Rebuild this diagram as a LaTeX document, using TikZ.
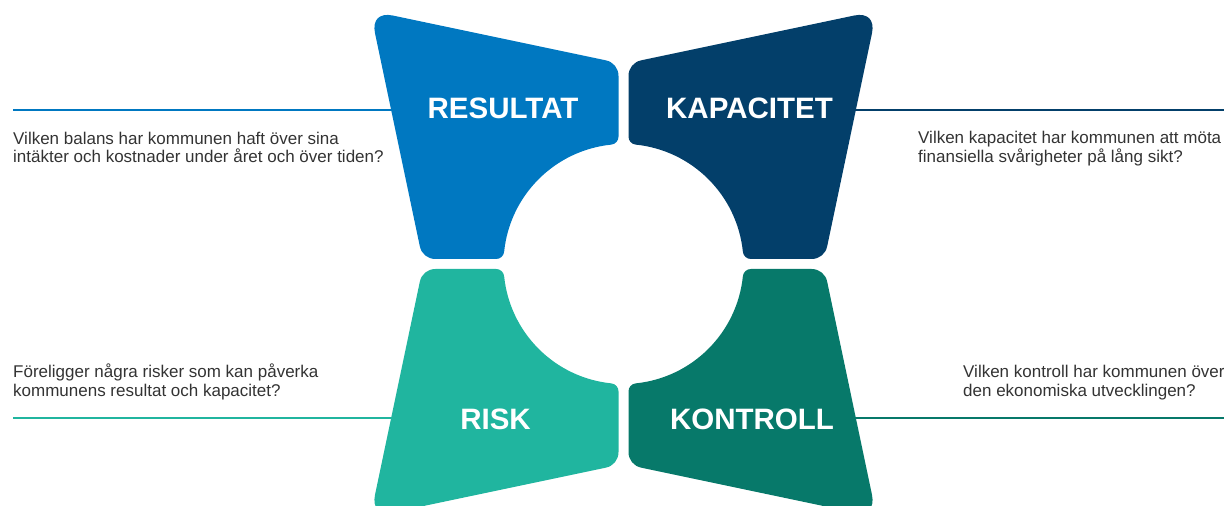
\documentclass[tikz,border=0pt]{standalone}
\usepackage{fontspec}
\setmainfont{Liberation Sans}
\definecolor{resc}{HTML}{0078C1}
\definecolor{kapc}{HTML}{033F6A}
\definecolor{riskc}{HTML}{20B59F}
\definecolor{kontc}{HTML}{07796A}
\definecolor{txtgray}{HTML}{333333}
\newcommand{\petalshape}[1]{%
  \fill[#1] (-5,140) -- (-5,188)
    .. controls (-5,195.8) and (-10.09,202.07) .. (-17.72,203.68)
    -- (-230.69,248.47)
    .. controls (-244.2,251.31) and (-251.31,244.2) .. (-248.47,230.69)
    -- (-203.68,17.72)
    .. controls (-202.07,10.09) and (-195.8,5) .. (-188,5)
    -- (-127.34,5)
    arc[start angle=-90, end angle=-5.83, radius=8]
    arc[start angle=174.17, end angle=95.83, radius=120]
    arc[start angle=-84.19, end angle=0, radius=8] -- cycle;}
\begin{document}
\begin{tikzpicture}[x=1pt,y=1pt,
  desc/.style={anchor=base west, align=left, inner sep=0pt, text=txtgray,
    font=\fontsize{17}{18.5}\selectfont},
  title/.style={text=white, inner sep=0pt, font=\fontsize{29.5}{31}\selectfont\bfseries},
  conn/.style={line width=2pt}]
\useasboundingbox (0,0) rectangle (1224,506);
\clip (0,0) rectangle (1224,506);
% connector lines (drawn beneath the petals)
\coordinate (l1s) at (13,396);   \coordinate (l1e) at (500,396);
\coordinate (l2s) at (747,396);  \coordinate (l2e) at (1224,396);
\coordinate (l3s) at (13,88);    \coordinate (l3e) at (500,88);
\coordinate (l4s) at (747,88);   \coordinate (l4e) at (1224,88);
\draw[conn, resc]  (l1s) -- (l1e);
\draw[conn, kapc]  (l2s) -- (l2e);
\draw[conn, riskc] (l3s) -- (l3e);
\draw[conn, kontc] (l4s) -- (l4e);
% petals
\begin{scope}[shift={(623.5,242)}]\petalshape{resc}\end{scope}
\begin{scope}[shift={(623.5,242)},xscale=-1]\petalshape{kapc}\end{scope}
\begin{scope}[shift={(623.5,242)},yscale=-1]\petalshape{riskc}\end{scope}
\begin{scope}[shift={(623.5,242)},xscale=-1,yscale=-1]\petalshape{kontc}\end{scope}
% titles
\node[title] (t1) at (503,398) {RESULTAT};
\node[title] (t2) at (749.5,398) {KAPACITET};
\node[title] (t3) at (495.5,86.5) {RISK};
\node[title] (t4) at (752,86.5) {KONTROLL};
% descriptions (anchored at the baseline of their last line)
\node[desc] (q1) at (13,343) {Vilken balans har kommunen haft över sina\\intäkter och kostnader under året och över tiden?};
\node[desc] (q2) at (918,343.5) {Vilken kapacitet har kommunen att möta\\finansiella svårigheter på lång sikt?};
\node[desc] (q3) at (13,109.5) {Föreligger några risker som kan påverka\\kommunens resultat och kapacitet?};
\node[desc] (q4) at (963,109.5) {Vilken kontroll har kommunen över\\den ekonomiska utvecklingen?};
\end{tikzpicture}
\end{document}
